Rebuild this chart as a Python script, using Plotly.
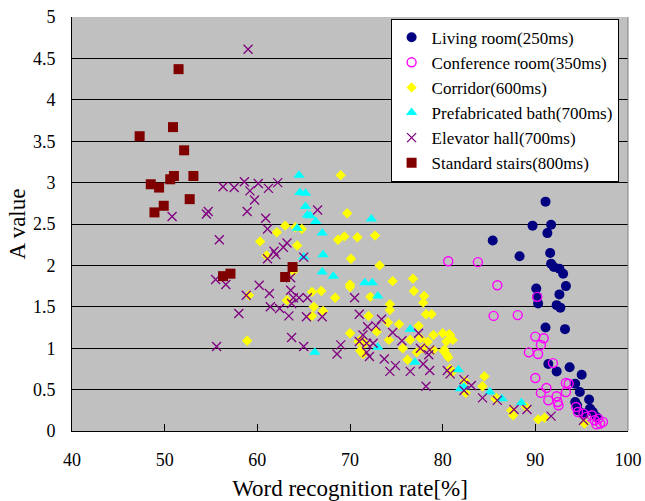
import plotly.graph_objects as go

# ---------------- data ----------------
living_x = [91.1, 89.7, 91.7, 91.3, 85.4, 91.6, 88.3, 91.7, 92.0, 92.6, 93.0, 93.3, 90.1, 92.6, 90.2, 90.3,
            92.3, 92.7, 91.1, 93.2, 91.4, 92.3, 93.7, 95.0, 94.3, 94.8, 95.8, 94.3, 94.5, 96.2, 95.9, 94.6,
            95.2, 96.6]
living_y = [2.77, 2.48, 2.49, 2.39, 2.30, 2.15, 2.11, 2.02, 1.98, 1.96, 1.90, 1.75, 1.72, 1.65, 1.62, 1.54,
            1.52, 1.49, 1.25, 1.23, 0.81, 0.72, 0.77, 0.68, 0.57, 0.47, 0.38, 0.35, 0.31, 0.23, 0.27, 0.25,
            0.21, 0.17]

conf_x = [80.6, 83.8, 85.9, 90.2, 85.5, 88.1, 90.0, 90.9, 90.6, 89.3, 90.3, 91.9, 90.0, 91.2, 90.6, 93.3,
          93.6, 93.3, 91.4, 92.3, 92.4, 92.5, 94.4, 94.6, 95.2, 95.5, 96.1, 96.4, 96.8, 97.0, 97.3, 96.6]
conf_y = [2.05, 2.04, 1.76, 1.62, 1.39, 1.40, 1.14, 1.12, 1.04, 0.95, 0.93, 0.82, 0.64, 0.52, 0.46, 0.58,
          0.57, 0.47, 0.37, 0.42, 0.35, 0.31, 0.29, 0.23, 0.21, 0.17, 0.19, 0.13, 0.15, 0.09, 0.11, 0.08]

corr_x = [69.0, 69.7, 63.0, 62.1, 64.1, 64.8, 60.3, 69.4, 68.7, 70.8, 72.7, 64.3, 61.0, 70.1, 73.2, 63.9,
          59.1, 65.9, 66.9, 68.4, 70.0, 70.0, 63.2, 66.1, 67.1, 65.9, 58.9, 70.0, 70.9, 74.6, 76.8, 76.9,
          78.0, 77.9, 78.2, 78.8, 72.2, 74.3, 74.3, 72.0, 75.3, 74.1, 72.9, 77.4, 79.0, 80.0, 80.8, 80.4,
          81.1, 80.7, 71.1, 71.6, 71.1, 71.4, 74.2, 76.5, 77.6, 78.4, 77.9, 75.7, 79.0, 80.1, 80.4, 80.6,
          80.2, 76.2, 77.2, 80.8, 81.0, 84.5, 84.3, 82.5, 82.4, 85.7, 85.8, 87.4, 87.6, 89.0, 90.3, 91.0,
          95.3]
corr_y = [3.09, 2.63, 2.48, 2.40, 2.46, 2.44, 2.29, 2.35, 2.31, 2.34, 2.36, 2.24, 2.12, 2.08, 2.00, 1.93,
          1.64, 1.68, 1.69, 1.61, 1.77, 1.74, 1.58, 1.50, 1.45, 1.39, 1.09, 1.18, 1.08, 1.81, 1.84, 1.69,
          1.63, 1.55, 1.41, 1.41, 1.62, 1.53, 1.46, 1.39, 1.29, 1.31, 1.20, 1.27, 1.16, 1.18, 1.16, 1.08,
          1.10, 1.17, 1.10, 1.06, 0.97, 0.93, 1.10, 1.10, 1.12, 1.08, 1.00, 1.00, 0.98, 0.97, 0.93, 0.89,
          0.98, 0.86, 0.95, 0.75, 0.71, 0.66, 0.54, 0.46, 0.60, 0.39, 0.40, 0.25, 0.19, 0.29, 0.14, 0.16,
          0.09]

bath_x = [64.5, 64.6, 65.2, 65.2, 65.4, 65.7, 66.3, 64.3, 67.0, 72.3, 67.1, 65.0, 67.0, 68.2, 71.6, 72.4,
          73.0, 66.2, 76.5, 73.0, 77.0, 81.7, 82.3, 81.9, 85.1, 86.4, 88.5]
bath_y = [3.09, 2.88, 2.87, 2.71, 2.61, 2.60, 2.53, 2.45, 2.39, 2.56, 2.13, 2.10, 1.92, 1.87, 1.79, 1.79,
          1.63, 0.95, 1.23, 1.01, 0.83, 0.74, 0.53, 0.51, 0.47, 0.39, 0.34]

elev_x = [59.0, 56.3, 57.5, 58.6, 60.1, 61.2, 62.2, 59.2, 59.7, 58.9, 54.7, 54.5, 50.8, 60.9, 66.5, 61.1,
          55.9, 63.2, 62.8, 61.8, 62.0, 61.1, 65.0, 55.5, 56.6, 60.2, 63.6, 58.8, 61.3, 63.6, 63.9, 63.7,
          64.5, 65.4, 58.0, 61.4, 62.4, 63.4, 65.3, 67.0, 70.5, 71.0, 55.6, 63.7, 65.0, 68.6, 69.0, 73.4,
          71.0, 72.8, 71.9, 74.6, 71.4, 71.8, 72.5, 75.6, 77.4, 71.8, 72.1, 73.7, 74.9, 74.3, 76.5, 77.6,
          78.6, 78.5, 77.9, 78.6, 78.2, 80.5, 80.8, 82.3, 83.1, 82.3, 84.3, 85.9, 87.7, 89.1, 91.7, 95.2]
elev_y = [4.61, 2.95, 2.94, 3.01, 2.99, 2.93, 3.00, 2.90, 2.79, 2.65, 2.65, 2.62, 2.59, 2.57, 2.67, 2.44,
          2.31, 2.27, 2.22, 2.17, 2.13, 2.08, 2.10, 1.83, 1.77, 1.76, 1.85, 1.64, 1.66, 1.70, 1.61, 1.54,
          1.61, 1.61, 1.42, 1.50, 1.48, 1.39, 1.38, 1.38, 1.61, 1.41, 1.02, 1.13, 1.02, 0.93, 1.04, 1.35,
          1.08, 1.27, 1.26, 1.19, 1.16, 1.06, 1.06, 1.09, 1.18, 0.95, 0.90, 0.87, 0.79, 0.72, 0.72, 1.00,
          0.98, 0.92, 0.81, 0.73, 0.54, 0.73, 0.69, 0.62, 0.55, 0.49, 0.40, 0.37, 0.26, 0.26, 0.18, 0.13]

stairs_x = [51.5, 50.9, 47.3, 52.1, 53.1, 51.0, 50.6, 48.5, 49.4, 52.7, 49.9, 48.9, 56.3, 57.1, 63.8, 63.0]
stairs_y = [4.37, 3.67, 3.56, 3.39, 3.08, 3.08, 3.04, 2.98, 2.94, 2.80, 2.72, 2.64, 1.87, 1.90, 1.98, 1.86]

x_ticks = [40, 50, 60, 70, 80, 90, 100]
y_ticks = [0, 0.5, 1, 1.5, 2, 2.5, 3, 3.5, 4, 4.5, 5]
y_ticktext = ["0", "0.5", "1", "1.5", "2", "2.5", "3", "3.5", "4", "4.5", "5"]

# ---------------- figure ----------------
FONT = "Liberation Serif, Times New Roman, serif"
fig = go.Figure()

series = [
    ("Living room(250ms)", living_x, living_y, dict(symbol="circle", size=10, color="#000080")),
    ("Conference room(350ms)", conf_x, conf_y,
     dict(symbol="circle-open", size=9, color="#ff00ff", line=dict(width=1.4, color="#ff00ff"))),
    ("Corridor(600ms)", corr_x, corr_y, dict(symbol="diamond", size=8, color="#ffff00")),
    ("Prefabricated bath(700ms)", bath_x, bath_y, dict(symbol="triangle-up", size=10, color="#00ffff")),
    ("Elevator hall(700ms)", elev_x, elev_y,
     dict(symbol="x-thin-open", size=9, color="#800080", line=dict(width=1.3, color="#800080"))),
    ("Standard stairs(800ms)", stairs_x, stairs_y, dict(symbol="square", size=10, color="#800000")),
]
for i, (name, xs, ys, mk) in enumerate(series):
    fig.add_trace(go.Scatter(x=xs, y=ys, mode="markers", name=name, marker=mk,
                             legendgroup=f"g{i}"))

fig.update_layout(
    width=645, height=501,
    margin=dict(l=72, r=17, t=17, b=70, autoexpand=False),
    paper_bgcolor="white",
    plot_bgcolor="#c0c0c0",
    font=dict(family=FONT, color="black", size=18),
    showlegend=True,
    legend=dict(
        x=0.573, y=0.996, xanchor="left", yanchor="top",
        bgcolor="white", bordercolor="black", borderwidth=1,
        font=dict(family=FONT, size=17, color="black"),
        tracegroupgap=0, itemwidth=30, traceorder="grouped",
    ),
    xaxis=dict(
        range=[40, 100], tickvals=x_ticks, ticks="inside", ticklen=7, tickcolor="black",
        showgrid=False, zeroline=False, showline=True, linecolor="black", linewidth=1,
        tickfont=dict(family=FONT, size=18), ticklabelstandoff=12, automargin=False,
        title=dict(text="Word recognition rate[%]", font=dict(family=FONT, size=23), standoff=12),
    ),
    yaxis=dict(
        range=[0, 5], tickvals=y_ticks, ticktext=y_ticktext, ticks="inside", ticklen=7,
        tickcolor="black", showgrid=True, gridcolor="black", gridwidth=1,
        zeroline=False, showline=True, linecolor="black", linewidth=1, automargin=False,
        tickfont=dict(family=FONT, size=18), ticklabelstandoff=12,
        title=dict(text="A value", font=dict(family=FONT, size=23), standoff=0),
    ),
)
# right border of plot area
fig.add_shape(type="line", xref="paper", yref="paper", x0=1, x1=1, y0=0, y1=1,
              line=dict(color="#808080", width=1))

fig.write_html("out.html")
